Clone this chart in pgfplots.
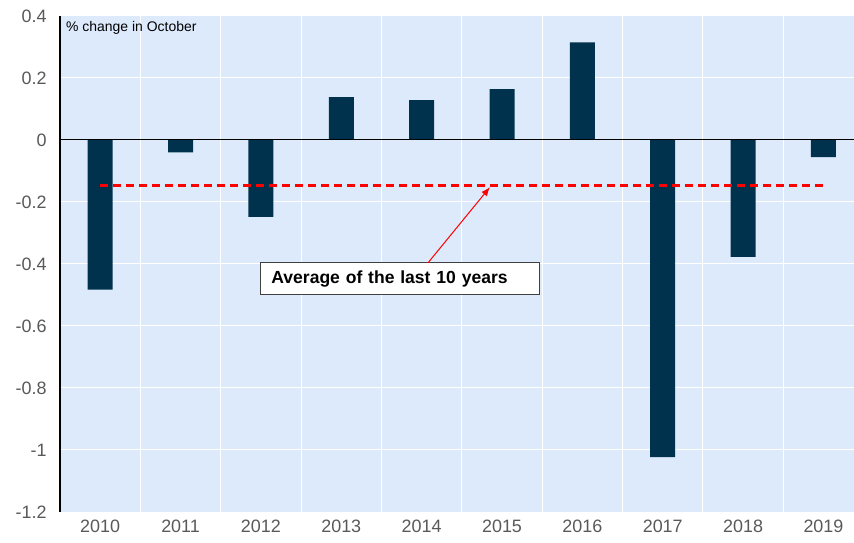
\documentclass[border=0pt]{standalone}
\usepackage{pgfplots}
\pgfplotsset{compat=1.18}
\usepackage{fontspec}
\setmainfont{Liberation Sans}
\usetikzlibrary{arrows.meta}
\definecolor{bg}{HTML}{DDEAFB}
\definecolor{barc}{RGB}{0,50,78}
\definecolor{tickc}{HTML}{595959}
\begin{document}
\begin{tikzpicture}
\begin{axis}[
  scale only axis,
  width=794bp, height=496bp,
  xmin=-0.5, xmax=9.38,
  ymin=-1.2, ymax=0.4,
  axis line style={draw=none},
  axis background/.style={fill=bg},
  xtick={0,...,9},
  xticklabels={2010,2011,2012,2013,2014,2015,2016,2017,2018,2019},
  minor xtick={0.5,1.5,...,8.5},
  xminorgrids=true,
  ytick={-1.2,-1,-0.8,-0.6,-0.4,-0.2,0,0.2,0.4},
  yticklabels={-1.2,-1,-0.8,-0.6,-0.4,-0.2,0,0.2,0.4},
  ymajorgrids=true,
  grid style={white, line width=1bp},
  minor grid style={white, line width=1bp},
  major tick length=0pt, minor tick length=0pt,
  tick style={draw=none},
  tick label style={font=\fontsize{18}{21}\selectfont, text=tickc},
  yticklabel style={xshift=-10bp},
  xticklabel style={yshift=-4bp},
  clip=false,
]
\addplot[ybar, bar width=25bp, fill=barc, draw=none] coordinates {
 (0,-0.483) (1,-0.040) (2,-0.248) (3,0.138) (4,0.129)
 (5,0.164) (6,0.315) (7,-1.023) (8,-0.377) (9,-0.055)};
\draw[black, line width=1bp] (axis cs:-0.5,0) -- (axis cs:9.38,0);
\draw[black, line width=1.2bp] (axis cs:-0.5,-1.2) -- (axis cs:-0.5,0.4);
\addplot[red, line width=3bp, dash pattern=on 8bp off 5bp] coordinates {(0,-0.148) (9,-0.148)};
\node[draw=black!75, line width=1bp, fill=white, minimum width=279bp, minimum height=32bp, inner sep=0pt, inner xsep=11bp,
  text width=257bp, align=left,
  font=\fontsize{17.6}{21}\selectfont\bfseries] at (axis cs:3.73,-0.448) {Average of the last 10 years};
\draw[red, line width=1bp, -{Latex[length=9bp,width=7bp]}] (axis cs:4.08,-0.396) -- (axis cs:4.85,-0.152);
\node[anchor=north west, font=\fontsize{14}{16}\selectfont, inner sep=0pt] at ([xshift=6bp,yshift=-5bp]current axis.north west) {\% change in October};
\end{axis}
\pgfresetboundingbox
\path[use as bounding box] ([xshift=-60bp,yshift=-31bp]current axis.south west) rectangle ([yshift=16bp]current axis.north east);
\end{tikzpicture}
\end{document}
